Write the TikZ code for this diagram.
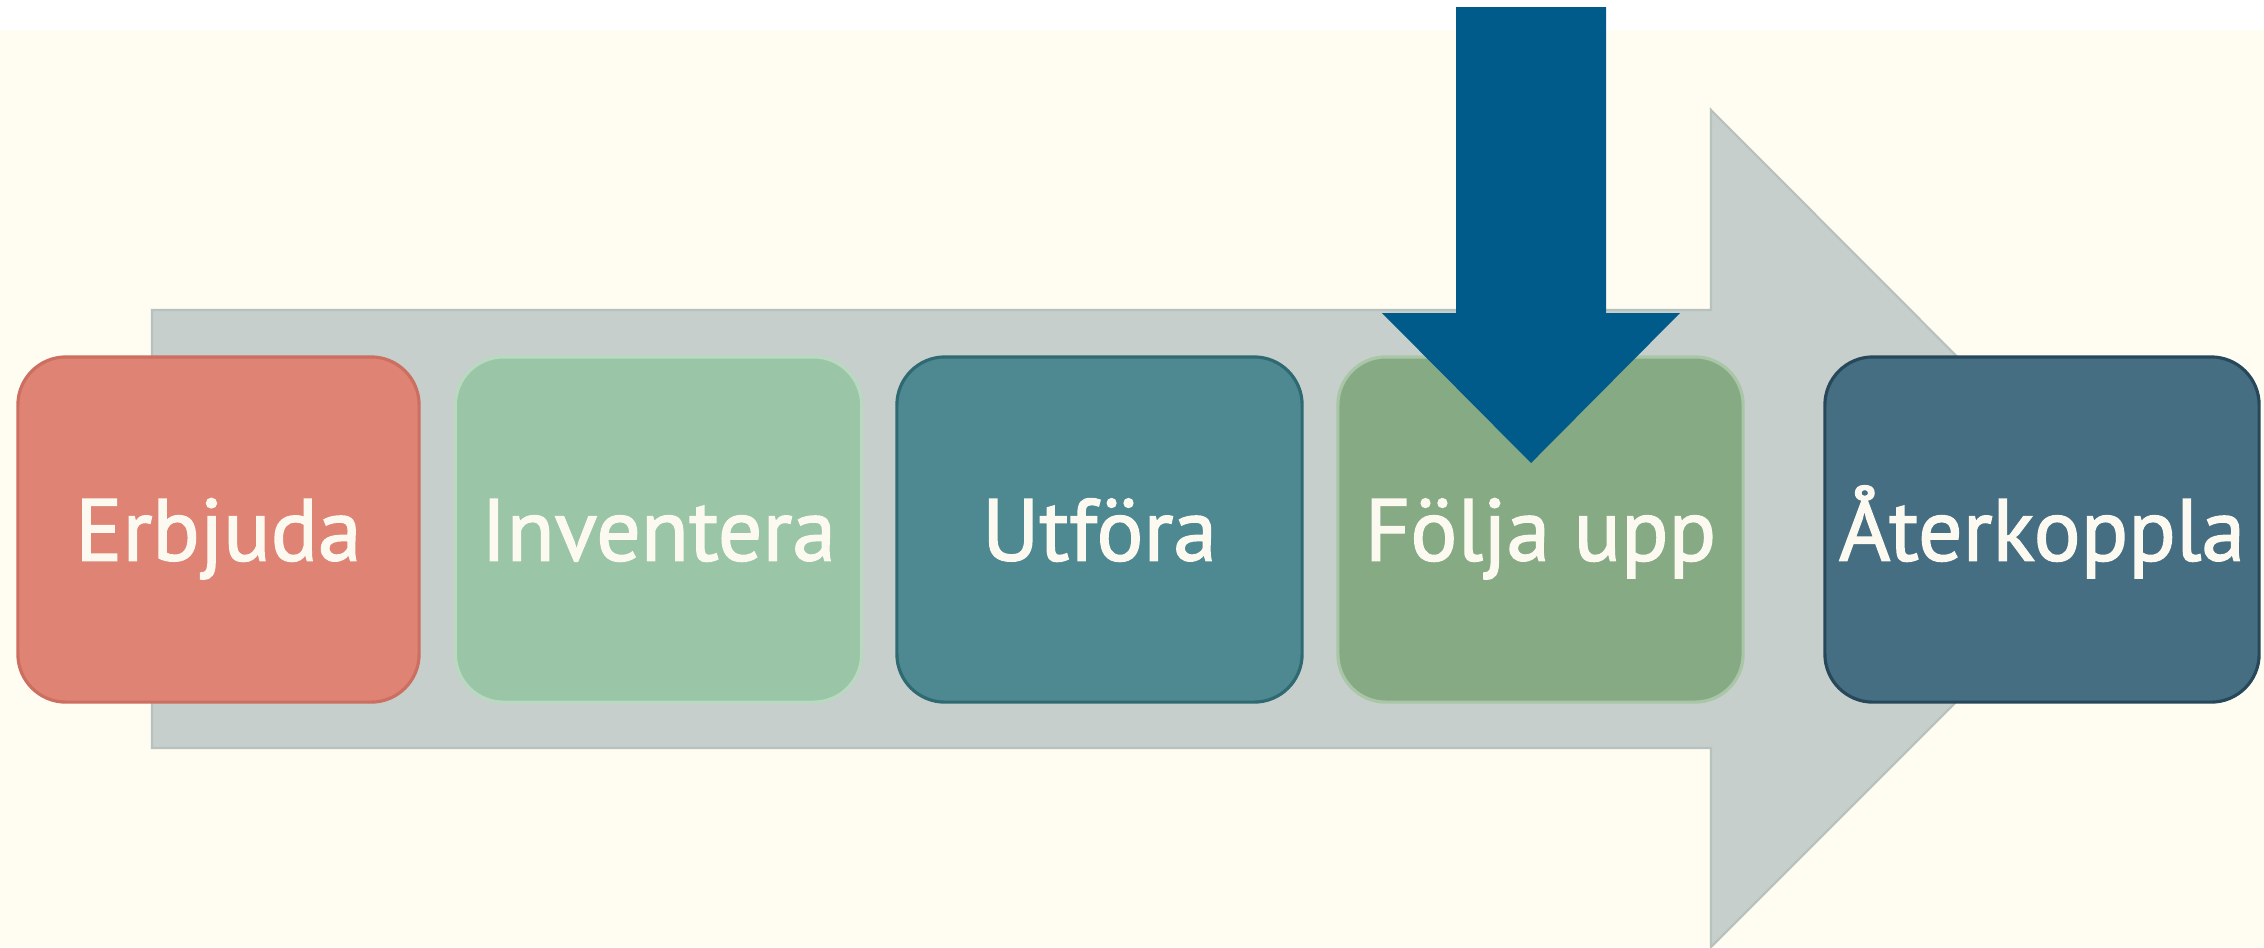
\documentclass[tikz,border=0pt]{standalone}
\usepackage{fontspec}
\setmainfont[FakeBold=1.6]{PT Sans}
\definecolor{cream}{HTML}{FFFCF2}
\definecolor{flowgrey}{HTML}{C6CFCB}
\definecolor{flowgreyline}{HTML}{B7C1BE}
\definecolor{bluearrow}{HTML}{005B8A}
\definecolor{cSalmon}{HTML}{DF8475}
\definecolor{cSalmonLine}{HTML}{CC6E60}
\definecolor{cMint}{HTML}{9AC5A6}
\definecolor{cMintLine}{HTML}{B9D9C1}
\definecolor{cTeal}{HTML}{4E8891}
\definecolor{cTealLine}{HTML}{2F6A73}
\definecolor{cGreen}{HTML}{86AB84}
\definecolor{cGreenLine}{HTML}{A9C6A6}
\definecolor{cSlate}{HTML}{466E83}
\definecolor{cSlateLine}{HTML}{27485A}
\definecolor{labeltext}{HTML}{FCFAF0}
\tikzset{
  stepbox/.style={rounded corners=0.48cm, minimum height=3.45cm, inner sep=0pt,
    line width=0.9pt, text=labeltext, font=\fontsize{25}{30}\selectfont,
    text height=0.62cm, text depth=0pt, anchor=center},
}
\begin{document}
\begin{tikzpicture}[x=0.01cm,y=-0.01cm]
\useasboundingbox (0,0) rectangle (2264,947);
\fill[white] (0,0) rectangle (2264,947);
\fill[cream] (0,30) rectangle (2264,947);
% big grey process arrow
\filldraw[fill=flowgrey, draw=flowgreyline, line width=0.6pt]
  (152,310) -- (1711,310) -- (1711,110) -- (2129,529) -- (1711,947) -- (1711,748) -- (152,748) -- cycle;
% step boxes
\node[stepbox, fill=cSalmon, draw=cSalmonLine, minimum width=4.01cm] (erbjuda) at (218.5,529.5) {Erbjuda};
\node[stepbox, fill=cMint, draw=cMintLine, minimum width=4.06cm] (inventera) at (658.5,529.5) {Inventera};
\node[stepbox, fill=cTeal, draw=cTealLine, minimum width=4.05cm] (utfora) at (1099.5,529.5) {Utföra};
\node[stepbox, fill=cGreen, draw=cGreenLine, minimum width=4.05cm] (folja) at (1540.5,529.5) {Följa upp};
\node[stepbox, fill=cSlate, draw=cSlateLine, minimum width=4.34cm] (aterkoppla) at (2042,529.5) {Återkoppla};
% blue down arrow
\fill[bluearrow] (1456,7) -- (1606,7) -- (1606,313) -- (1680,313) -- (1531,463) -- (1382,313) -- (1456,313) -- cycle;
\end{tikzpicture}
\end{document}
